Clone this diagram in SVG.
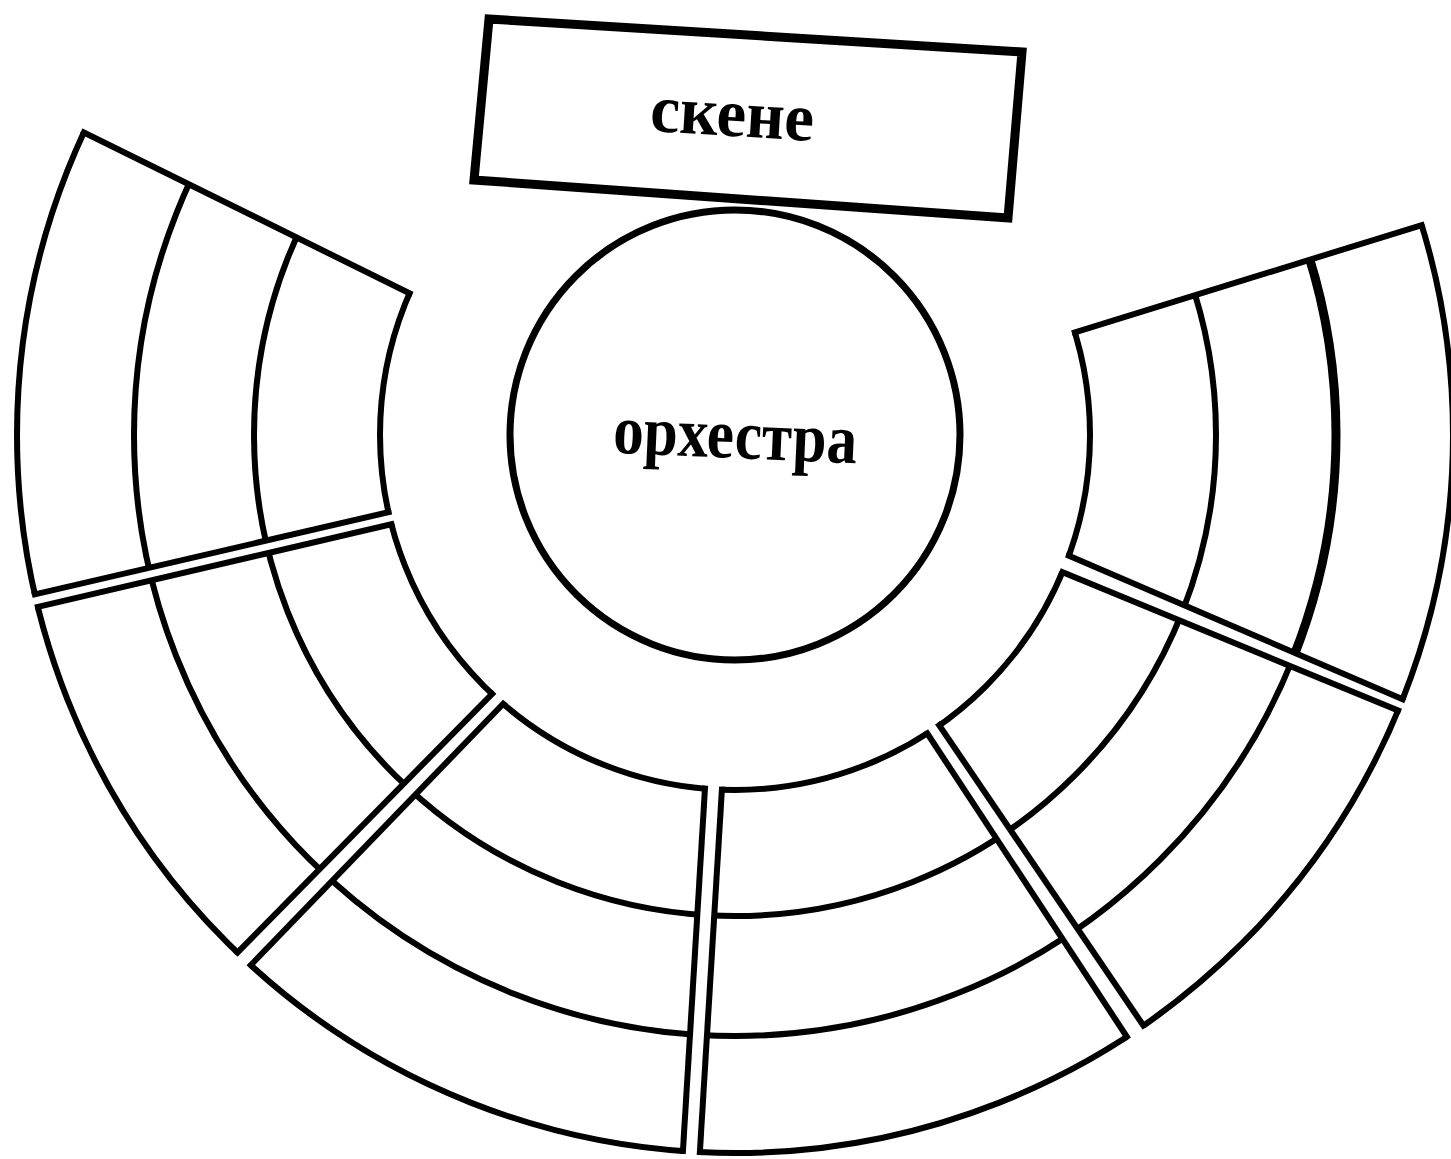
<svg xmlns="http://www.w3.org/2000/svg" xmlns:xlink="http://www.w3.org/1999/xlink" width="1451" height="1159" viewBox="0 0 1451 1159">
<style>
.ln{fill:none;stroke:#000;stroke-width:6}
.thick{fill:none;stroke:#000;stroke-width:9}
.box{fill:#fff;stroke:#000;stroke-width:9;stroke-linejoin:miter}
.orch{fill:#fff;stroke:#000;stroke-width:7}
.lbl{font-family:"Liberation Serif","Times New Roman",serif;font-weight:bold;fill:#000;text-anchor:middle}
</style>
<defs>
<clipPath id="ann"><path clip-rule="evenodd" d="M14,435 a721,721 0 1,0 1442,0 a721,721 0 1,0 -1442,0 Z M383,435 a352,352 0 1,0 704,0 a352,352 0 1,0 -704,0 Z"/></clipPath>
<g id="rings">
<circle class="ln" cx="735" cy="435" r="355"/>
<circle class="ln" cx="735" cy="435" r="481"/>
<circle class="ln" cx="735" cy="435" r="601"/>
<circle class="ln" cx="735" cy="435" r="718"/>
</g>
<clipPath id="w1"><polygon points="933.4,376.2 1596.5,171 1566.5,769.5 933.8,497.8"/></clipPath>
<clipPath id="w2"><polygon points="921,514 1567,780 1246,1176.5 854.6,600.8"/></clipPath>
<clipPath id="w3"><polygon points="730.8,643.2 689,1331 1228,1190.5 844.2,607.2"/></clipPath>
<clipPath id="w4"><polygon points="713.8,643.2 672,1331 121,1099.5 603.6,599.8"/></clipPath>
<clipPath id="w5"><polygon points="596.2,588.2 106,1086 -144.5,649.5 530,491.8"/></clipPath>
<clipPath id="w6"><polygon points="526.2,480.2 -144.5,636 -79,52 536.6,356"/></clipPath>
</defs>
<rect x="0" y="0" width="1451" height="1159" fill="#fff"/>

<g id="seating">
<g id="sector1">
<g clip-path="url(#w1)"><use xlink:href="#rings"/><circle class="thick" cx="735" cy="435" r="601"/></g>
<g clip-path="url(#ann)"><line class="ln" x1="933.4" y1="376.2" x2="1596.5" y2="171"/><line class="ln" x1="933.8" y1="497.8" x2="1566.5" y2="769.5"/></g>
</g>
<g id="sector2">
<g clip-path="url(#w2)"><use xlink:href="#rings"/></g>
<g clip-path="url(#ann)"><line class="ln" x1="921" y1="514" x2="1567" y2="780"/><line class="ln" x1="854.6" y1="600.8" x2="1246" y2="1176.5"/></g>
</g>
<g id="sector3">
<g clip-path="url(#w3)"><use xlink:href="#rings"/></g>
<g clip-path="url(#ann)"><line class="ln" x1="844.2" y1="607.2" x2="1228" y2="1190.5"/><line class="ln" x1="730.8" y1="643.2" x2="689" y2="1331"/></g>
</g>
<g id="sector4">
<g clip-path="url(#w4)"><use xlink:href="#rings"/></g>
<g clip-path="url(#ann)"><line class="ln" x1="713.8" y1="643.2" x2="672" y2="1331"/><line class="ln" x1="603.6" y1="599.8" x2="121" y2="1099.5"/></g>
</g>
<g id="sector5">
<g clip-path="url(#w5)"><use xlink:href="#rings"/></g>
<g clip-path="url(#ann)"><line class="ln" x1="596.2" y1="588.2" x2="106" y2="1086"/><line class="ln" x1="530" y1="491.8" x2="-144.5" y2="649.5"/></g>
</g>
<g id="sector6">
<g clip-path="url(#w6)"><use xlink:href="#rings"/></g>
<g clip-path="url(#ann)"><line class="ln" x1="526.2" y1="480.2" x2="-144.5" y2="636"/><line class="ln" x1="536.6" y1="356" x2="-79" y2="52"/></g>
</g>
</g>

<g id="orchestra">
<circle class="orch" cx="735" cy="435" r="225"/>
<text class="lbl" x="735" y="458" font-size="70" textLength="244" lengthAdjust="spacingAndGlyphs" transform="rotate(2.5 735 445)">орхестра</text>
</g>

<g id="skene">
<polygon class="box" points="489,19 1022,52 1008,218 474,180"/>
<text class="lbl" x="732" y="136" font-size="68" textLength="164" lengthAdjust="spacingAndGlyphs" transform="rotate(3.5 732 120)">скене</text>
</g>

<g id="connectors"></g>
</svg>
